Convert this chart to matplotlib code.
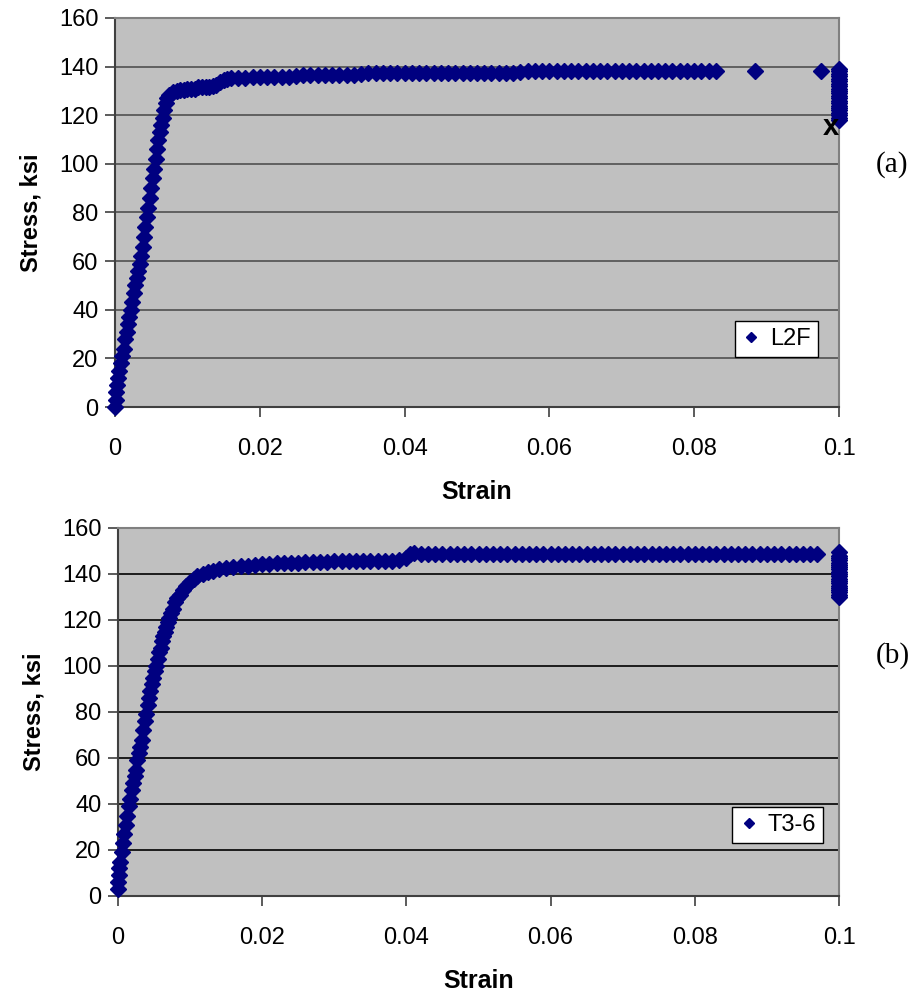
import matplotlib
matplotlib.use("Agg")
import matplotlib.pyplot as plt
from matplotlib.lines import Line2D

plt.rcParams['font.family'] = ['Liberation Sans', 'DejaVu Sans']

# ---------------- data (a) L2F ----------------
strain_a = [0.0000, 0.0001, 0.0002, 0.0003, 0.0004, 0.0006, 0.0008, 0.0010, 0.0012, 0.0014,
            0.0016, 0.0018, 0.0020, 0.0022, 0.0024, 0.0026, 0.0028, 0.0030, 0.0032, 0.0034,
            0.0036, 0.0038, 0.0040, 0.0042, 0.0044, 0.0046, 0.0048, 0.0050, 0.0052, 0.0054,
            0.0056, 0.0058, 0.0060, 0.0062, 0.0064, 0.0066, 0.0068, 0.0070, 0.0072, 0.0075,
            0.0080, 0.0085, 0.0090, 0.0095, 0.0100, 0.0105, 0.0110, 0.0115, 0.0120, 0.0125,
            0.0130, 0.0135, 0.0140, 0.0145, 0.0150, 0.0155, 0.0160, 0.0170, 0.0180, 0.0190,
            0.0200, 0.0210, 0.0220, 0.0230, 0.0240, 0.0250, 0.0260, 0.0270, 0.0280, 0.0290,
            0.0300, 0.0310, 0.0320, 0.0330, 0.0340, 0.0350, 0.0360, 0.0370, 0.0380, 0.0390,
            0.0400, 0.0410, 0.0420, 0.0430, 0.0440, 0.0450, 0.0460, 0.0470, 0.0480, 0.0490,
            0.0500, 0.0510, 0.0520, 0.0530, 0.0540, 0.0550, 0.0560, 0.0570, 0.0580, 0.0590,
            0.0600, 0.0610, 0.0620, 0.0630, 0.0640, 0.0650, 0.0660, 0.0670, 0.0680, 0.0690,
            0.0700, 0.0710, 0.0720, 0.0730, 0.0740, 0.0750, 0.0760, 0.0770, 0.0780, 0.0790,
            0.0800, 0.0810, 0.0820, 0.0830, 0.0884, 0.0975]
stress_a = [0, 3, 6, 9, 12, 15, 18, 21, 24, 28,
            31, 34, 37, 40, 43, 47, 50, 53, 56, 59,
            62, 66, 70, 74, 78, 82, 86, 90, 94, 98,
            102, 106, 110, 113, 116, 119, 122, 125, 127, 128.5,
            129.5, 130, 130.5, 130.5, 131, 131, 131, 131.5, 131.5, 131.5,
            131.5, 132, 132.5, 133.5, 134.5, 135, 135.2, 135.4, 135.5, 135.6,
            135.8, 135.8, 135.8, 135.8, 135.9, 136, 136.4, 136.6, 136.6, 136.6,
            136.6, 136.6, 136.6, 136.7, 136.8, 137.2, 137.3, 137.4, 137.4, 137.4,
            137.4, 137.4, 137.4, 137.4, 137.4, 137.4, 137.4, 137.4, 137.4, 137.4,
            137.4, 137.4, 137.4, 137.4, 137.4, 137.4, 137.8, 138.1, 138.2, 138.2,
            138.2, 138.2, 138.2, 138.2, 138.2, 138.2, 138.2, 138.2, 138.2, 138.2,
            138.2, 138.2, 138.2, 138.2, 138.2, 138.2, 138.2, 138.2, 138.2, 138.2,
            138.2, 138.2, 138.2, 138.2, 138.0, 138.0]
end_strain_a = [0.1, 0.1, 0.1, 0.1, 0.1, 0.1, 0.1, 0.1, 0.1, 0.1, 0.1,
                0.1, 0.1, 0.1, 0.1, 0.1, 0.1, 0.1, 0.1, 0.1, 0.1, 0.1]
end_stress_a = [118, 119, 120, 121, 122, 123, 124, 125, 126, 127, 128,
                129, 130, 131, 132, 133, 134, 135, 136, 137, 138, 139]

# ---------------- data (b) T3-6 ----------------
strain_b = [0.0000, 0.0000, 0.0001, 0.0002, 0.0003, 0.0005, 0.0007, 0.0009, 0.0011, 0.0013,
            0.0015, 0.0017, 0.0019, 0.0021, 0.0023, 0.0025, 0.0027, 0.0029, 0.0031, 0.0033,
            0.0035, 0.0037, 0.0039, 0.0041, 0.0043, 0.0045, 0.0047, 0.0049, 0.0051, 0.0053,
            0.0055, 0.0057, 0.0059, 0.0061, 0.0063, 0.0065, 0.0067, 0.0069, 0.0071, 0.0073,
            0.0076, 0.0079, 0.0082, 0.0086, 0.0090, 0.0095, 0.0100, 0.0105, 0.0110, 0.0118,
            0.0125, 0.0132, 0.0140, 0.0150, 0.0160, 0.0170, 0.0180, 0.0190, 0.0200, 0.0210,
            0.0220, 0.0230, 0.0240, 0.0250, 0.0260, 0.0270, 0.0280, 0.0290, 0.0300, 0.0310,
            0.0320, 0.0330, 0.0340, 0.0350, 0.0360, 0.0370, 0.0380, 0.0390, 0.0400, 0.0405,
            0.0410, 0.0420, 0.0430, 0.0440, 0.0450, 0.0460, 0.0470, 0.0480, 0.0490, 0.0500,
            0.0510, 0.0520, 0.0530, 0.0540, 0.0550, 0.0560, 0.0570, 0.0580, 0.0590, 0.0600,
            0.0610, 0.0620, 0.0630, 0.0640, 0.0650, 0.0660, 0.0670, 0.0680, 0.0690, 0.0700,
            0.0710, 0.0720, 0.0730, 0.0740, 0.0750, 0.0760, 0.0770, 0.0780, 0.0790, 0.0800,
            0.0810, 0.0820, 0.0830, 0.0840, 0.0850, 0.0860, 0.0870, 0.0880, 0.0890, 0.0900,
            0.0910, 0.0920, 0.0930, 0.0940, 0.0950, 0.0960, 0.0970]
stress_b = [3, 6, 9, 12, 15, 19, 23, 27, 31, 35,
            39, 42, 46, 49, 52, 55, 59, 62, 65, 68,
            72, 76, 79, 83, 86, 89, 92, 95, 98, 100,
            103, 106, 108, 111, 113, 115, 117, 119, 121, 123,
            125, 128, 129.5, 131, 133, 135, 136.5, 138, 139, 140,
            141, 141.5, 142, 142.5, 143, 143.3, 143.6, 144, 144.2, 144.5,
            144.6, 144.7, 144.8, 145, 145.1, 145.2, 145.3, 145.4, 145.5, 145.5,
            145.6, 145.6, 145.7, 145.7, 145.8, 145.8, 145.8, 145.9, 147, 148.5,
            149, 148.6, 148.8, 148.7, 148.9, 148.6, 148.8, 148.9, 148.7, 148.8,
            148.9, 148.8, 148.7, 148.9, 148.8, 148.9, 148.8, 148.9, 148.9, 148.8,
            148.9, 148.9, 148.8, 148.9, 148.9, 148.9, 148.8, 148.9, 148.9, 148.9,
            148.9, 148.9, 148.9, 148.9, 148.9, 148.9, 148.9, 148.9, 148.9, 148.9,
            148.9, 148.9, 148.9, 148.9, 148.9, 148.9, 148.9, 148.9, 148.9, 148.9,
            148.9, 148.9, 148.9, 148.9, 148.9, 148.9, 148.9]
end_strain_b = [0.1, 0.1, 0.1, 0.1, 0.1, 0.1, 0.1, 0.1, 0.1, 0.1, 0.1,
                0.1, 0.1, 0.1, 0.1, 0.1, 0.1, 0.1, 0.1, 0.1]
end_stress_b = [130, 131, 132, 133, 134, 135, 136, 137, 138, 139, 140,
                141, 142, 143, 144, 145, 146, 147, 148, 149.5]

x_ticks = [0, 0.02, 0.04, 0.06, 0.08, 0.1]
x_labels = ['0', '0.02', '0.04', '0.06', '0.08', '0.1']
y_ticks = [0, 20, 40, 60, 80, 100, 120, 140, 160]

NAVY = '#000080'
W, H = 918, 999
fig = plt.figure(figsize=(W / 100, H / 100), dpi=100)


def make_axes(rect, xs, ys, exs, eys, label, legend_anchor, grid_color):
    ax = fig.add_axes(rect)
    ax.set_facecolor('#C0C0C0')
    ax.set_xlim(0, 0.1)
    ax.set_ylim(0, 160)
    ax.set_xticks(x_ticks)
    ax.set_xticklabels(x_labels)
    ax.set_yticks(y_ticks)
    ax.tick_params(axis='both', labelsize=17, direction='out', length=7,
                   width=1.2, color='#404040')
    ax.tick_params(axis='x', pad=15)
    ax.tick_params(axis='y', pad=5)
    for y in y_ticks[1:-1]:
        ax.axhline(y, color=grid_color, lw=1.2, zorder=1)
    ax.spines['left'].set_color('#404040')
    ax.spines['bottom'].set_color('#404040')
    ax.spines['left'].set_linewidth(1.5)
    ax.spines['bottom'].set_linewidth(1.5)
    ax.spines['top'].set_color('#808080')
    ax.spines['right'].set_color('#808080')
    ax.spines['top'].set_linewidth(1.5)
    ax.spines['right'].set_linewidth(1.5)
    ax.plot(xs, ys, linestyle='none', marker='D', markersize=8,
            color=NAVY, mec=NAVY, zorder=3, clip_on=False)
    ax.plot(exs, eys, linestyle='none', marker='D', markersize=8,
            color=NAVY, mec=NAVY, zorder=3, clip_on=False)
    ax.set_xlabel('Strain', fontsize=18, fontweight='bold', labelpad=15)
    ax.set_ylabel('Stress, ksi', fontsize=17, fontweight='bold', labelpad=12)
    h = Line2D([], [], linestyle='none', marker='D', markersize=5,
               color=NAVY, mec=NAVY)
    leg = ax.legend([h], [label], loc='lower right',
                    bbox_to_anchor=legend_anchor, fontsize=17,
                    frameon=True, fancybox=False, framealpha=1,
                    edgecolor='black', handlelength=0.8, handletextpad=0.4,
                    borderpad=0.3, borderaxespad=0)
    leg.get_frame().set_linewidth(1.0)
    return ax


ax_a = make_axes([115 / W, 1 - 407 / H, (839 - 115) / W, (407 - 18) / H],
                 strain_a, stress_a, end_strain_a, end_stress_a, 'L2F',
                 (0.971, 0.1285), '#505050')
ax_a.text(0.1, 115, 'x', fontsize=21, fontweight='bold', ha='right',
          va='center', color='black', zorder=4)

ax_b = make_axes([118 / W, 1 - 896 / H, (839 - 118) / W, (896 - 528) / H],
                 strain_b, stress_b, end_strain_b, end_stress_b, 'T3-6',
                 (0.978, 0.144), 'black')

fig.text(876 / W, 1 - 165 / H, '(a)', fontsize=21, family='Liberation Serif',
         ha='left', va='center')
fig.text(876 / W, 1 - 656 / H, '(b)', fontsize=21, family='Liberation Serif',
         ha='left', va='center')

fig.savefig('out.png', dpi=100)
